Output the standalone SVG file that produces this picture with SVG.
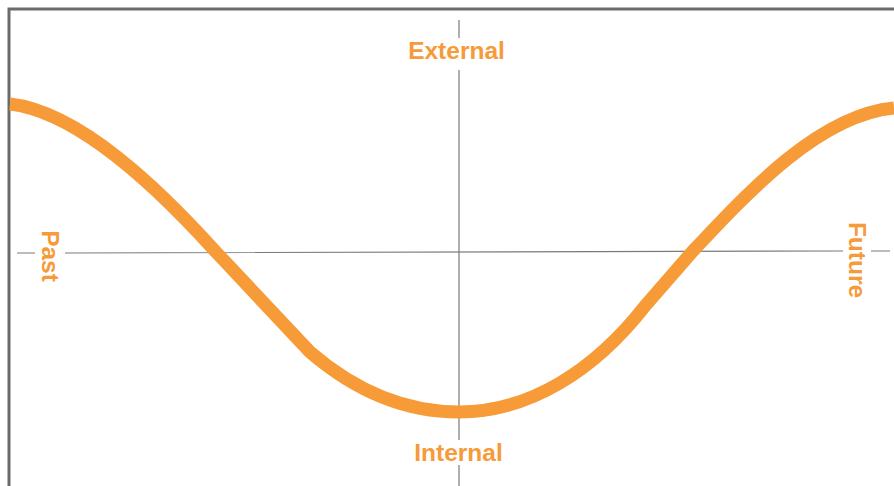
<svg xmlns="http://www.w3.org/2000/svg" width="894" height="486" viewBox="0 0 894 486">
<style>
.frame{fill:none;stroke:#6b6b6b;stroke-width:3}
.axis{fill:none;stroke:#7a7a7a;stroke-width:1.2}
.curve{fill:none;stroke:#f79a38;stroke-width:13;stroke-linejoin:round}
.lbl{font-family:"Liberation Sans",Arial,Helvetica,sans-serif;font-weight:bold;font-size:24.5px;fill:#f79a3a}
</style>
<rect width="894" height="486" fill="#ffffff"/>
<g id="frame"><path class="frame" d="M9,486 V9 H894"/></g>
<g id="connectors">
<path class="axis" d="M17,253 H35 M65,253 L843,251 M871,251 H890"/>
<path class="axis" d="M459,20 V38 M459,70 V440 M459,465 V486"/>
<path class="curve" d="M10,104 C80,112 160,190 216,252 L310,352 C360,395 410,412 459,412 C530,412 595,370 645,306 L692,252 C750,190 820,115 894,108"/>
</g>
<g id="external"><text class="lbl" x="456.5" y="59" text-anchor="middle">External</text></g>
<g id="internal"><text class="lbl" x="458.5" y="461" text-anchor="middle">Internal</text></g>
<g id="past"><text class="lbl" transform="translate(42,256) rotate(90)" text-anchor="middle">Past</text></g>
<g id="future"><text class="lbl" transform="translate(848.5,260) rotate(90)" text-anchor="middle">Future</text></g>
</svg>
